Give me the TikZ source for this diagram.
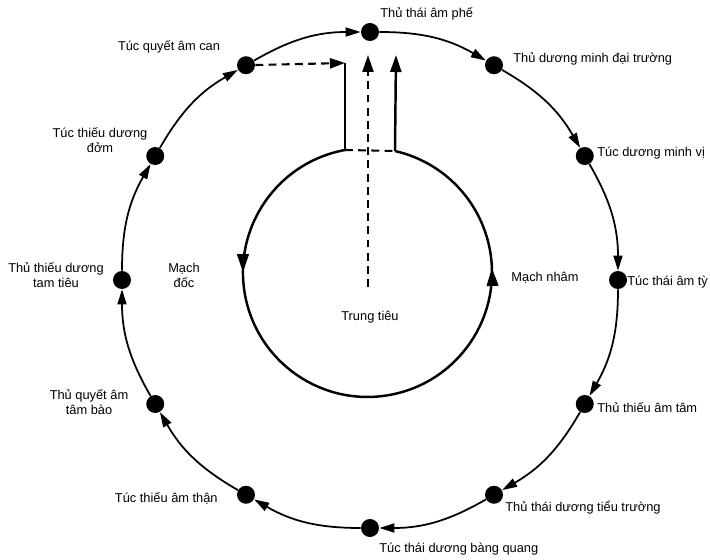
\documentclass[tikz,border=0pt]{standalone}
\usepackage{fontspec}
\setmainfont{Liberation Sans}
\usepackage{tikz}
\usetikzlibrary{arrows.meta,decorations.markings}

\tikzset{
  dot/.style={circle, fill, inner sep=0pt, minimum size=3.6mm},
  lbl/.style={font=\fontsize{7.3}{8.5}\selectfont, inner sep=0pt, align=center},
  flow/.style={line width=1pt, -{Triangle[length=3mm,width=1.8mm]}},
  inner/.style={line width=1.4pt},
  dash line/.style={line width=1.2pt, dash pattern=on 4.5pt off 3pt},
}

\begin{document}
\begin{tikzpicture}
\useasboundingbox (-7.4,-5.6) rectangle (6.8,5.6);

% 12 kinh tren vong ngoai
\node[dot] (phe) at (90:4.96) {};
\node[dot] (daitruong) at (60:4.96) {};
\node[dot] (vi) at (30:4.96) {};
\node[dot] (ty) at (0:4.96) {};
\node[dot] (tam) at (-30:4.96) {};
\node[dot] (tieutruong) at (-60:4.96) {};
\node[dot] (bangquang) at (-90:4.96) {};
\node[dot] (than) at (-120:4.96) {};
\node[dot] (tambao) at (-150:4.96) {};
\node[dot] (tamtieu) at (180:4.96) {};
\node[dot] (dom) at (150:4.96) {};
\node[dot] (can) at (120:4.96) {};

\draw[flow] (phe) to[bend left=15] (daitruong);
\draw[flow] (daitruong) to[bend left=15] (vi);
\draw[flow] (vi) to[bend left=15] (ty);
\draw[flow] (ty) to[bend left=15] (tam);
\draw[flow] (tam) to[bend left=15] (tieutruong);
\draw[flow] (tieutruong) to[bend left=15] (bangquang);
\draw[flow] (bangquang) to[bend left=15] (than);
\draw[flow] (than) to[bend left=15] (tambao);
\draw[flow] (tambao) to[bend left=15] (tamtieu);
\draw[flow] (tamtieu) to[bend left=15] (dom);
\draw[flow] (dom) to[bend left=15] (can);
\draw[flow] (can) to[bend left=15] (phe);

% ten kinh
\node[lbl, anchor=west] (phe-t) at (0.2,5.32) {Thủ thái âm phế};
\node[lbl, anchor=west] (daitruong-t) at (2.86,4.42) {Thủ dương minh đại trường};
\node[lbl, anchor=west] (vi-t) at (4.54,2.54) {Túc dương minh vị};
\node[lbl, anchor=west] (ty-t) at (5.14,-0.04) {Túc thái âm tỳ};
\node[lbl, anchor=west] (tam-t) at (4.54,-2.56) {Thủ thiếu âm tâm};
\node[lbl, anchor=west] (tieutruong-t) at (2.7,-4.56) {Thủ thái dương tiểu trường};
\node[lbl, anchor=west] (bangquang-t) at (0.18,-5.38) {Túc thái dương bàng quang};
\node[lbl, anchor=east] (than-t) at (-3.04,-4.38) {Túc thiếu âm thận};
\node[lbl] (tambao-t) at (-5.62,-2.44) {Thủ quyết âm\\tâm bào};
\node[lbl] (tamtieu-t) at (-6.28,0.1) {Thủ thiếu dương\\tam tiêu};
\node[lbl] (dom-t) at (-5.4,2.8) {Túc thiếu dương\\đởm};
\node[lbl] (can-t) at (-4.02,4.66) {Túc quyết âm can};

% mach doc, mach nham, trung tieu
\coordinate (nl) at (-0.5,2.6);
\coordinate (nr) at (0.5,2.58);
\coordinate (nltop) at (-0.5,4.34);
\coordinate (nrtop) at (0.52,4.5);
\coordinate (tt) at (-0.04,-0.14);
\coordinate (tttop) at (-0.04,4.5);

\draw[inner, postaction={decorate}, decoration={markings,
    mark=at position 0.236 with {\arrow{Triangle[length=3.6mm,width=2.3mm]}},
    mark=at position 0.777 with {\arrow{Triangle[length=3.6mm,width=2.3mm]}}}]
  (nl) arc[start angle=100.4, end angle=437.2, radius=2.49];
\draw[inner] (nl) -- (nltop);
\draw[inner, -{Triangle[length=3.4mm,width=2.2mm]}] (nr) -- (nrtop);
\draw[dash line] (nl) -- (nr);
\draw[dash line, -{Triangle[length=3.4mm,width=2.2mm]}] (tt) -- (tttop);
\draw[dash line, -{Triangle[length=3mm,width=2mm]}] (can) -- (nltop);

\node[lbl] (doc-t) at (-3.72,0.1) {Mạch\\đốc};
\node[lbl] (nham-t) at (3.5,0.04) {Mạch nhâm};
\node[lbl] (trungtieu-t) at (0,-0.74) {Trung tiêu};
\end{tikzpicture}
\end{document}
